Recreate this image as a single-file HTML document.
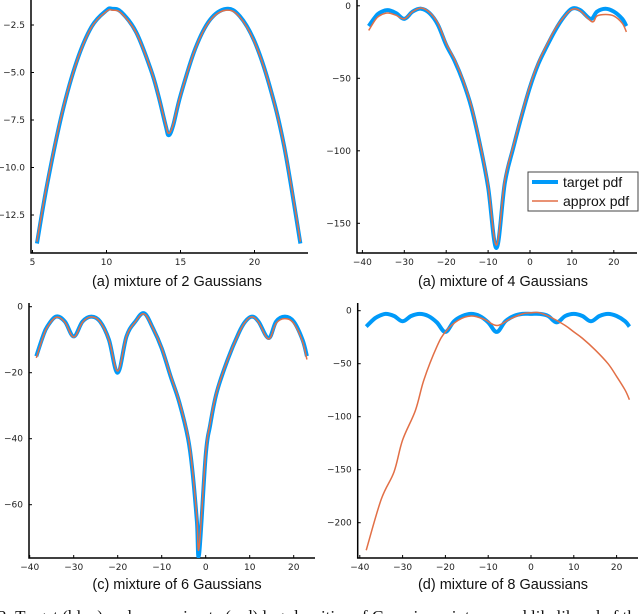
<!DOCTYPE html>
<html><head><meta charset="utf-8">
<style>
html,body{margin:0;padding:0;background:#fff;}
svg{display:block;}
.tick{font-family:"DejaVu Sans","Liberation Sans",sans-serif;font-size:9px;fill:#222;}
.cap{font-family:"Liberation Sans",sans-serif;font-size:14.5px;fill:#111;}
.leg{font-family:"Liberation Sans",sans-serif;font-size:14px;fill:#111;}
</style></head>
<body>
<svg id="fig" width="640" height="614" viewBox="0 0 640 614" xmlns="http://www.w3.org/2000/svg">
<text class="cap" x="177" y="286" text-anchor="middle">(a) mixture of 2 Gaussians</text>
<text class="cap" x="503" y="286" text-anchor="middle">(a) mixture of 4 Gaussians</text>
<text class="cap" x="177" y="589" text-anchor="middle">(c) mixture of 6 Gaussians</text>
<text class="cap" x="503" y="589" text-anchor="middle">(d) mixture of 8 Gaussians</text>
<text x="-2" y="622" style="font-family:'Liberation Serif',serif;font-size:17px;fill:#111">2: Target (blue) and approximate (red) log-densities of Gaussian mixtures and likelihood of the</text>
<g id="legend">
<rect x="528" y="172" width="110" height="39" fill="#fff" stroke="#444" stroke-width="1"/>
<line x1="532" y1="182" x2="558" y2="182" stroke="#009af9" stroke-width="4"/>
<text class="leg" x="563" y="187">target pdf</text>
<line x1="532" y1="201" x2="558" y2="201" stroke="#e26f46" stroke-width="1.5"/>
<text class="leg" x="563" y="206">approx pdf</text>
</g>
</svg>
<script>
// Panel 1: mixture of 2
const p1X = [5.3,6,7,8,9,10,10.4,11,12,13,13.5,14,14.2,14.5,15,16,17,18.1,19,20,21,22,23.1];
const p1Target = [-14,-10.85,-7.14,-4.39,-2.58,-1.73,-1.65,-1.82,-2.87,-4.86,-6.2,-7.8,-8.3,-7.8,-6.21,-3.74,-2.22,-1.65,-2.03,-3.36,-5.65,-8.87,-14];
const p1Approx = [-13.9,-10.8,-7.1,-4.4,-2.6,-1.78,-1.72,-1.88,-2.9,-4.85,-6.2,-7.75,-8.2,-7.75,-6.2,-3.75,-2.26,-1.72,-2.08,-3.4,-5.65,-8.85,-13.9];
const p1XTicks = [5,10,15,20];
const p1YTicks = [-2.5,-5.0,-7.5,-10.0,-12.5];
// Panel 2: mixture of 4
const p2X = [-38.5,-37,-36,-34,-32,-30,-28,-26,-24,-22,-20,-18,-16,-14,-12,-10,-8,-6,-4,-2,0,2,4,6,8,10,12,14.5,16,18,20,22,23];
const p2Target = [-14,-8,-5,-3,-5,-9,-4,-2,-5,-13,-27,-38,-52,-70,-95,-125,-167,-122,-98,-76,-56,-40,-28,-17,-8,-2,-3,-9,-4,-2,-4,-9,-14];
const p2ApproxX = [-38.5,-37,-36,-34,-32,-30,-28,-26,-24,-22,-20,-18,-16,-14,-12,-10,-8,-6,-4,-2,0,2,4,6,8,10,12,14.8,16,18,20,22,23];
const p2Approx = [-17,-10,-7,-5,-6.5,-9,-4,-1.5,-4.5,-12,-26,-37,-51,-69,-94,-124,-165,-120,-97,-75,-55,-39,-27,-16,-8,-2.5,-3.5,-11,-7,-6,-7,-12,-18];
const p2XTicks = [-40,-30,-20,-10,0,10,20];
const p2YTicks = [0,-50,-100,-150];
// Panel 3: mixture of 6
const p3X = [-38.5,-37,-36,-34,-32,-30,-28,-26,-24,-22,-20,-18,-16,-14,-12,-10,-8,-6,-4,-3,-2,-1.5,0,1,2.5,5,7.5,9,10.5,12,14.3,16,18,20,22,23];
const p3Target = [-15,-9,-6,-3,-4.5,-9,-4.5,-3,-4.5,-10,-20,-9,-4.5,-2,-6.5,-12.6,-21,-29,-40,-50,-65,-75,-45,-36,-26,-16,-8,-4.5,-3,-4.5,-9.5,-4.5,-3,-4.5,-10,-15];
const p3Approx = [-15.5,-9.3,-6.2,-3.2,-4.7,-9.2,-4.7,-3.1,-4.6,-10,-19.5,-9,-4.6,-2.2,-6.5,-12.5,-20.8,-28.8,-39.5,-49.5,-64,-73,-44.5,-35.5,-25.8,-16,-8.1,-4.6,-3.1,-4.7,-9.8,-5,-3.6,-5,-10.5,-16];
const p3XTicks = [-40,-30,-20,-10,0,10,20];
const p3YTicks = [0,-20,-40,-60];
// Panel 4: mixture of 8
const p4X = [-38.5,-37,-36,-34,-32,-30,-28,-26,-24,-22,-20,-18,-16,-14,-12,-10,-8,-6,-4,-2,0,2,4,6,8,10,12,14,16,18,20,22,23];
const p4Target = [-15,-9,-6,-3,-5,-10,-5,-3,-5,-11,-20,-10,-5,-3,-5,-11,-20,-10,-5,-3,-3,-3,-5,-11,-5,-3,-5,-10,-5,-3,-5,-10,-15];
const p4ApproxX = [-38.5,-35,-32,-30,-27,-25,-22,-20,-17,-14,-11,-8,-5,-2,0,2,5,8,10,12,15,18,20,22,23];
const p4Approx = [-226,-178,-152,-122,-94,-65,-34,-20,-9,-5,-8,-14,-8,-3,-2,-2,-7,-14,-20,-26,-37,-50,-62,-75,-84];
const p4XTicks = [-40,-30,-20,-10,0,10,20];
const p4YTicks = [0,-50,-100,-150,-200];

const NS = 'http://www.w3.org/2000/svg';
const fig = document.getElementById('fig');
function el(tag, attrs){ const e=document.createElementNS(NS,tag); for(const k in attrs) e.setAttribute(k,attrs[k]); return e; }
function fmt(v, dec){ const s=Math.abs(v).toFixed(dec); return (v<0?'\u2212':'')+s; }
function smoothPath(P){
  let d='M'+P[0][0].toFixed(2)+' '+P[0][1].toFixed(2);
  for(let i=0;i<P.length-1;i++){
    const p0=P[i-1]||P[i], p1=P[i], p2=P[i+1], p3=P[i+2]||P[i+1];
    const t=0.35;
    const c1=[p1[0]+(p2[0]-p0[0])*t/2, p1[1]+(p2[1]-p0[1])*t/2];
    const c2=[p2[0]-(p3[0]-p1[0])*t/2, p2[1]-(p3[1]-p1[1])*t/2];
    d+=` C${c1[0].toFixed(2)} ${c1[1].toFixed(2)} ${c2[0].toFixed(2)} ${c2[1].toFixed(2)} ${p2[0].toFixed(2)} ${p2[1].toFixed(2)}`;
  }
  return d;
}

function panel(id, cfg, xs, tgt, axs, apx, xt, yt, dec){
  const g = el('g',{});
  
  
  const sx = v => cfg.x0px + (v - cfg.x0) * cfg.kx;
  const sy = v => cfg.y0px + (cfg.y0 - v) * cfg.ky;
  const clip = el('clipPath',{id:id+'-clip'});
  clip.appendChild(el('rect',{x:cfg.left,y:cfg.top,width:cfg.right-cfg.left,height:cfg.bottom-cfg.top}));
  g.appendChild(clip);
  const ax = el('path',{d:`M${cfg.left} ${cfg.top} V${cfg.bottom} H${cfg.right}`,fill:'none',stroke:'#000','stroke-width':1.5});
  
  
  g.appendChild(ax);
  xt.forEach(v=>{
    const x=sx(v);
    g.appendChild(el('line',{x1:x,y1:cfg.bottom,x2:x,y2:cfg.bottom-3,stroke:'#000','stroke-width':1}));
    const lb=el('text',{x:x,y:cfg.bottom+12,'text-anchor':'middle',class:'tick'});
    lb.textContent=fmt(v,0);
    
    
    g.appendChild(lb);
  });
  yt.forEach(v=>{
    const y=sy(v);
    g.appendChild(el('line',{x1:cfg.left,y1:y,x2:cfg.left+3,y2:y,stroke:'#000','stroke-width':1}));
    const lb=el('text',{x:cfg.left-6,y:y+3,'text-anchor':'end',class:'tick'});
    lb.textContent=fmt(v,dec);
    
    
    g.appendChild(lb);
  });
  const mk = (X,Y,color,w,name)=>{
    const pts = X.map((x,i)=>[sx(x), sy(Y[i])]);
    const p = el('path',{d:smoothPath(pts),fill:'none',stroke:color,'stroke-width':w,'stroke-linejoin':'round','stroke-linecap':'butt','clip-path':`url(#${id}-clip)`});
    
    
    g.appendChild(p);
  };
  mk(xs,tgt,'#009af9',4,id+'-target-line');
  mk(axs,apx,'#e26f46',1.5,id+'-approx-line');
  fig.insertBefore(g, document.getElementById('legend'));
}

panel('panel-2-gaussians',{left:31,top:0,right:308,bottom:253,x0:5,x0px:32.5,kx:14.8,y0:-2.5,y0px:25,ky:19},p1X,p1Target,p1X,p1Approx,p1XTicks,p1YTicks,1);
panel('panel-4-gaussians',{left:357,top:0,right:637,bottom:253,x0:0,x0px:530,kx:4.19,y0:0,y0px:5.8,ky:1.45},p2X,p2Target,p2ApproxX,p2Approx,p2XTicks,p2YTicks,0);
panel('panel-6-gaussians',{left:29,top:303,right:315,bottom:558,x0:0,x0px:205.7,kx:4.4,y0:0,y0px:306.7,ky:3.3},p3X,p3Target,p3X,p3Approx,p3XTicks,p3YTicks,0);
panel('panel-8-gaussians',{left:357.7,top:303,right:638,bottom:558,x0:0,x0px:531,kx:4.28,y0:0,y0px:310.7,ky:1.06},p4X,p4Target,p4ApproxX,p4Approx,p4XTicks,p4YTicks,0);
</script>
</body></html>
